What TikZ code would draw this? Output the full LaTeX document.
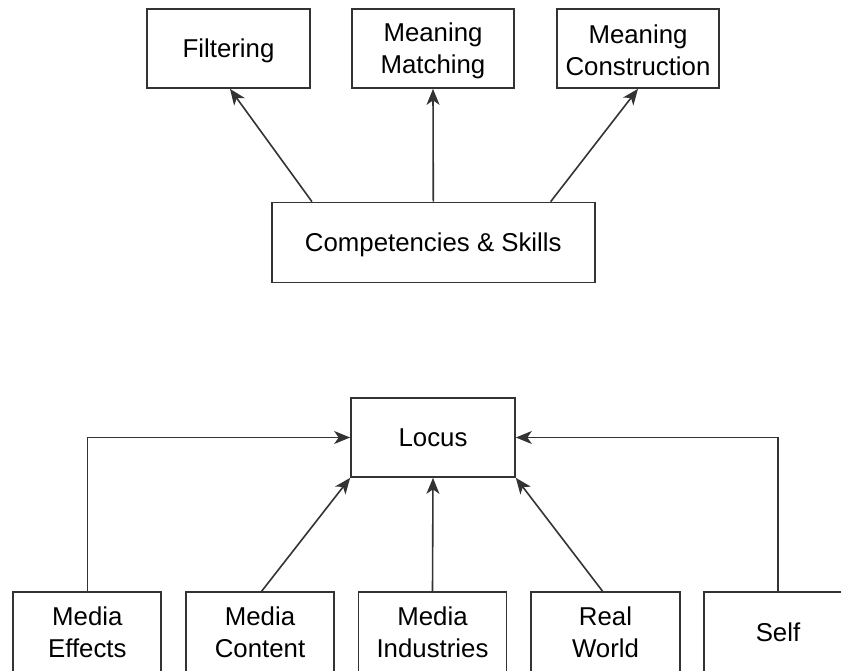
\documentclass[tikz,border=0pt]{standalone}
\usepackage{fontspec}
\setmainfont{Liberation Sans}
\usetikzlibrary{arrows.meta}
\definecolor{edge}{HTML}{333333}
% lower a line of text without changing its reported size
\newcommand{\lowerline}[1]{\raisebox{-2pt}[\height][\depth]{#1}}
\begin{document}
\begin{tikzpicture}[x=1pt,y=-1pt,
  box/.style={draw=edge, line width=1.7pt, inner sep=0pt, align=center,
    font=\fontsize{25.8}{32}\selectfont},
  link/.style={draw=edge, line width=1.6pt,
    -{Stealth[length=16pt,width=13pt,inset=4.5pt]}}]
  \useasboundingbox (0,0) rectangle (841,670);
  \clip (0,0) rectangle (841,670);

  % upper group
  \node[box, minimum width=163pt, minimum height=79pt] (filt)   at (228.5,48.5) {\lowerline{Filtering}};
  \node[box, minimum width=162pt, minimum height=79pt] (match)  at (433,48.5)   {\lowerline{Meaning}\\\lowerline{Matching}};
  \node[box, minimum width=162pt, minimum height=79pt] (constr) at (638,48.5)   {\lowerline{Meaning}\\\lowerline{Construction}};
  \node[box, minimum width=323pt, minimum height=80pt] (comp)   at (433.3,242.5) {\lowerline{Competencies \& Skills}};

  \draw[link] ([xshift=41pt]comp.north west) -- ([xshift=1.5pt]filt.south);
  \draw[link] (comp.north) -- (match.south);
  \draw[link] ([xshift=-45pt]comp.north east) -- (constr.south);

  % lower group
  \node[box, minimum width=164pt, minimum height=79pt] (locus) at (433,437.5) {Locus};
  \node[box, minimum width=148pt, minimum height=80pt] (effects)    at (87.3,632)  {Media\\Effects};
  \node[box, minimum width=148pt, minimum height=80pt] (content)    at (260,632)   {Media\\Content};
  \node[box, minimum width=148pt, minimum height=80pt] (industries) at (432.5,632) {Media\\Industries};
  \node[box, minimum width=149pt, minimum height=80pt] (real)       at (605.5,632) {Real\\World};
  \node[box, minimum width=148pt, minimum height=80pt] (self)       at (778,632)   {Self};

  \draw[link] (effects.north) |- (locus.west);
  \draw[link] ([xshift=1.7pt]content.north) -- (locus.south west);
  \draw[link] (industries.north) -- (locus.south);
  \draw[link] ([xshift=-3pt]real.north) -- (locus.south east);
  \draw[link] (self.north) |- (locus.east);
\end{tikzpicture}
\end{document}
